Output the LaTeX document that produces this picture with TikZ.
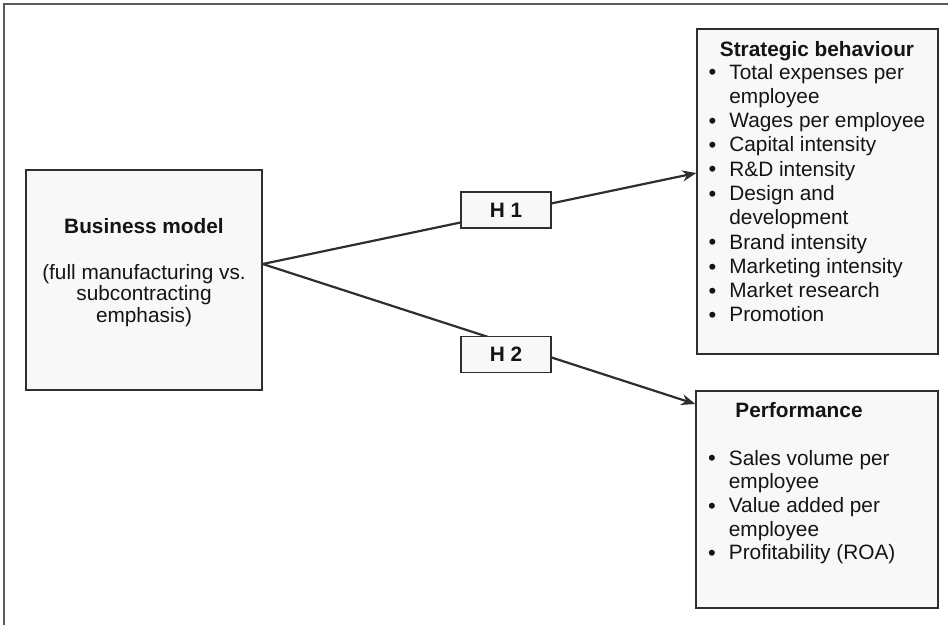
\documentclass[tikz,border=0pt]{standalone}
\usepackage{fontspec}
\setmainfont{Liberation Sans}
\usetikzlibrary{arrows.meta}
\usetikzlibrary{positioning}
\definecolor{boxfill}{HTML}{F8F8F8}
\definecolor{linegray}{HTML}{2E2E2E}
\definecolor{framegray}{HTML}{5A5A5A}
\definecolor{textgray}{HTML}{141414}
\newcommand{\bigdot}{\makebox[7.7pt][l]{\raisebox{-0.8pt}{\fontsize{22}{21}\selectfont\textbullet}}}

\begin{document}
\begin{tikzpicture}[x=1pt,y=-1pt,>={Stealth[length=14pt,width=11pt]},
		font=\fontsize{20.8}{20.8}\selectfont,text=textgray]
		\tikzstyle{box}=[draw=linegray,fill=boxfill,line width=1.4pt,rectangle,inner sep=0pt]
		\tikzstyle{hyp}=[box,minimum width=90pt,minimum height=36pt,font=\fontsize{20.8}{21}\selectfont\bfseries]
		\tikzstyle{link}=[->,draw=linegray,line width=2.2pt]
		\tikzstyle{title}=[inner sep=0pt,anchor=base,font=\fontsize{20.8}{21}\selectfont\bfseries]
		\tikzstyle{items}=[inner sep=0pt,anchor=base west]
		
		\useasboundingbox (0,0) rectangle (948,625);
		\draw[framegray,line width=1.6pt] (948,4) -- (4,4) -- (4,625);
		
		% the three blocks
		\node[box,minimum width=236pt,minimum height=220pt] (bm) at (144,280) {};
		\node[box,minimum width=241pt,minimum height=325pt] (sb) at (817.5,191.5) {};
		\node[box,minimum width=242pt,minimum height=217pt] (pf) at (817,499.5) {};
		
		\node[title]          (bmtitle) at (144,233) {Business model};
		\node[inner sep=0pt,anchor=base,align=center,font=\fontsize{20.8}{21.5}\selectfont]
		                      (bmtext)  at (144,322) {(full manufacturing vs.\\subcontracting\\emphasis)};
		
		\node[title]          (sbtitle) at (817,56) {Strategic behaviour};
		\node[items]          (sblist)  at (708.5,79) {%
			\renewcommand{\arraystretch}{1.168}%
			\begin{tabular}[t]{@{}l@{\hspace{13pt}}l@{}}
				\bigdot & Total expenses per\\
				        & employee\\
				\bigdot & Wages per employee\\
				\bigdot & Capital intensity\\
				\bigdot & R\&D intensity\\
				\bigdot & Design and\\
				        & development\\
				\bigdot & Brand intensity\\
				\bigdot & Marketing intensity\\
				\bigdot & Market research\\
				\bigdot & Promotion
			\end{tabular}};
		
		\node[title]          (pftitle) at (799,417) {Performance};
		\node[items]          (pflist)  at (708,465) {%
			\renewcommand{\arraystretch}{1.14}%
			\begin{tabular}[t]{@{}l@{\hspace{13pt}}l@{}}
				\bigdot & Sales volume per\\
				        & employee\\
				\bigdot & Value added per\\
				        & employee\\
				\bigdot & Profitability (ROA)
			\end{tabular}};
		
		% hypotheses
		\coordinate (src) at (bm.east |- 0,264);
		\coordinate (t1)  at (sb.west |- 0,173);
		\coordinate (t2)  at (pf.west |- 0,404);
		
		\path (src) edge [link] (t1)
		      (src) edge [link] (t2);
		
		\node[hyp] (h1) at (506,210)   {H 1};
		\node[hyp] (h2) at (506,354.5) {H 2};
		
\end{tikzpicture}
\end{document}
